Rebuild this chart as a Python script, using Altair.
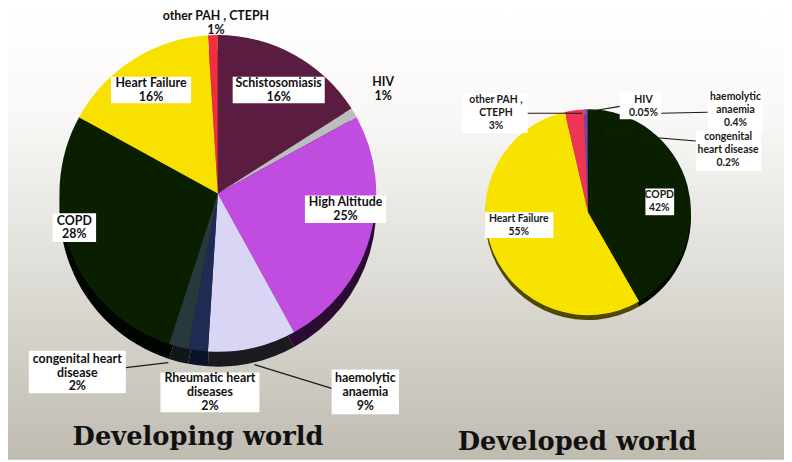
import math
import altair as alt
import pandas as pd

# ---------------- data ----------------
dev_names = ["other PAH , CTEPH", "Schistosomiasis", "HIV", "High Altitude",
             "haemolytic anaemia", "Rheumatic heart diseases",
             "congenital heart disease", "COPD", "Heart Failure"]
dev_values = [1, 16, 1, 25, 9, 2, 2, 28, 16]

ed_names = ["other PAH , CTEPH", "HIV", "haemolytic anaemia",
            "congenital heart disease", "COPD", "Heart Failure"]
ed_values = [3, 0.05, 0.4, 0.2, 42, 55]

dev_labels = ["other PAH , CTEPH\n1%", "Schistosomiasis\n16%", "HIV\n1%",
              "High Altitude\n25%", "haemolytic\nanaemia\n9%",
              "Rheumatic heart\ndiseases\n2%", "congenital heart\ndisease\n2%",
              "COPD\n28%", "Heart Failure\n16%"]
ed_labels = ["other PAH ,\nCTEPH\n3%", "HIV\n0.05%", "haemolytic\nanaemia\n0.4%",
             "congenital\nheart disease\n0.2%", "COPD\n42%", "Heart Failure\n55%"]

titles = ["Developing world", "Developed world"]

# ---------------- styles ----------------
dev_colors = ["#ef2f3e", "#5b1c42", "#bdbdbd", "#c04ddf", "#d9d5f4",
              "#1e2b55", "#27393b", "#0a1e00", "#f8e100"]
dev_side = ["#5a1016", "#220a18", "#555555", "#2a0c33", "#1b1a21",
            "#0c1227", "#0f1819", "#000500", "#4a4200"]
ed_colors = ["#ee3556", "#6a4bb8", "#8a3fa0", "#34408a", "#0a1e00", "#f7e200"]
ed_side = ["#5a1422", "#2a1d48", "#2e1436", "#141a38", "#000500", "#4e4700"]

OFF = 8  # page margin: reference pixel -> chart pixel
W, H = 784, 454


def P(v):
    return v - OFF


def pie(names, values, fills, cx, cy, r, lead):
    df = pd.DataFrame({"name": names, "value": values,
                       "order": list(range(len(names)))})
    total = float(sum(values))
    start = -2 * math.pi * sum(values[:lead]) / total
    return alt.Chart(df).mark_arc(radius=r).encode(
        theta=alt.Theta("value:Q", stack=True,
                        scale=alt.Scale(domain=[0, total],
                                        range=[start, start + 2 * math.pi])),
        color=alt.Color("name:N", scale=alt.Scale(domain=names, range=fills),
                        legend=None),
        order=alt.Order("order:Q"),
        x=alt.value(P(cx)),
        y=alt.value(P(cy)),
    )


# background gradient
bg = alt.Chart(pd.DataFrame({"a": [0]})).mark_rect(
    fill=alt.Gradient(
        gradient="linear",
        stops=[alt.GradientStop(color="#ffffff", offset=0),
               alt.GradientStop(color="#f8f7f5", offset=0.25),
               alt.GradientStop(color="#dedcd6", offset=0.6),
               alt.GradientStop(color="#bfbbb1", offset=1)],
        x1=0, x2=0, y1=0, y2=1)
).encode(x=alt.value(0), x2=alt.value(W), y=alt.value(0), y2=alt.value(H))

# pies (side band first, then top surface)
L_CX, L_CY, L_R, L_D = 220, 193, 160, 15
R_CX, R_CY, R_R, R_D = 594, 212, 104, 5

dev_shadow = pie(dev_names, dev_values, dev_side, L_CX, L_CY + L_D, L_R, 1)
dev_top = pie(dev_names, dev_values, dev_colors, L_CX, L_CY, L_R, 1)
ed_shadow = pie(ed_names, ed_values, ed_side, R_CX, R_CY + R_D, R_R, 4)
ed_top = pie(ed_names, ed_values, ed_colors, R_CX, R_CY, R_R, 4)

# leader lines (reference pixel coords)
lines = [
    (127, 369, 170, 364),
    (257, 366, 335, 390),
    (532, 112, 588, 112),
    (632, 104, 597, 110),
    (667, 112, 715, 111),
    (607, 132, 703, 140),
]
lines_df = pd.DataFrame([{"x": P(a), "y": P(b), "x2": P(c), "y2": P(d)}
                         for a, b, c, d in lines])
leader = alt.Chart(lines_df).mark_rule(color="#1a1a1a", strokeWidth=1.2).encode(
    x=alt.X("x:Q", scale=None), y=alt.Y("y:Q", scale=None),
    x2="x2:Q", y2="y2:Q")
dot = alt.Chart(pd.DataFrame({"x": [P(607)], "y": [P(132)]})).mark_point(
    filled=True, color="#111111", size=18, opacity=1).encode(
    x=alt.X("x:Q", scale=None), y=alt.Y("y:Q", scale=None))

# label boxes and text centres (reference pixel coords)
dev_layout = {
    "other PAH , CTEPH": (None, (218, 21)),
    "Schistosomiasis": ((235, 75, 328, 102), (281.5, 88.5)),
    "HIV": (None, (387, 87.5)),
    "High Altitude": ((308, 195, 390, 223), (349, 209)),
    "haemolytic anaemia": ((335, 371, 403, 416), (369, 393.5)),
    "Rheumatic heart diseases": ((162, 374, 262, 414), (212, 394)),
    "congenital heart disease": ((29, 352, 127, 395), (78, 374)),
    "COPD": ((53, 213, 97, 242), (75, 227.5)),
    "Heart Failure": ((112, 75, 193, 102), (152.5, 88.5)),
}
ed_layout = {
    "other PAH , CTEPH": ((467, 92, 533, 132), (501, 112)),
    "HIV": ((626, 91, 668, 118), (650, 105)),
    "haemolytic anaemia": ((715, 88, 771, 130), (743, 108.5)),
    "congenital heart disease": ((703, 130, 769, 170), (735.5, 149.5)),
    "COPD": ((652, 188, 681, 215), (666, 201.5)),
    "Heart Failure": ((490, 212, 559, 238), (524, 225.5)),
}

DEV_LH, ED_LH = 14, 13

boxes, dev_txt, ed_txt = [], [], []
for n, lab in zip(dev_names, dev_labels):
    box, (tx, ty) = dev_layout[n]
    if box:
        boxes.append({"x": P(box[0]), "y": P(box[1]), "x2": P(box[2]), "y2": P(box[3])})
    k = lab.count("\n")
    dev_txt.append({"x": P(tx), "y": P(ty) - k * DEV_LH / 2, "t": lab})
for n, lab in zip(ed_names, ed_labels):
    box, (tx, ty) = ed_layout[n]
    if box:
        boxes.append({"x": P(box[0]), "y": P(box[1]), "x2": P(box[2]), "y2": P(box[3])})
    k = lab.count("\n")
    ed_txt.append({"x": P(tx), "y": P(ty) - k * ED_LH / 2, "t": lab})

box_layer = alt.Chart(pd.DataFrame(boxes)).mark_rect(color="white").encode(
    x=alt.X("x:Q", scale=None), y=alt.Y("y:Q", scale=None),
    x2="x2:Q", y2="y2:Q")

dev_text = alt.Chart(pd.DataFrame(dev_txt)).mark_text(
    font="Lato", fontSize=12.5, fontWeight="bold", color="#111111",
    lineBreak="\n", lineHeight=DEV_LH, baseline="middle", align="center"
).encode(x=alt.X("x:Q", scale=None), y=alt.Y("y:Q", scale=None), text="t:N")

ed_text = alt.Chart(pd.DataFrame(ed_txt)).mark_text(
    font="Lato", fontSize=10.5, fontWeight="bold", color="#1a1a1a",
    lineBreak="\n", lineHeight=ED_LH, baseline="middle", align="center"
).encode(x=alt.X("x:Q", scale=None), y=alt.Y("y:Q", scale=None), text="t:N")

title_df = pd.DataFrame({"t": titles, "x": [P(200), P(583)], "y": [P(447), P(452)]})
title_layer = alt.Chart(title_df).mark_text(
    font="DejaVu Serif", fontSize=26, fontWeight="bold", color="#111111",
    baseline="alphabetic", align="center"
).encode(x=alt.X("x:Q", scale=None), y=alt.Y("y:Q", scale=None), text="t:N")

chart = alt.layer(
    bg, dev_shadow, dev_top, ed_shadow, ed_top, leader, dot,
    box_layer, dev_text, ed_text, title_layer
).resolve_scale(
    color="independent", theta="independent"
).properties(
    width=W, height=H, padding=0, autosize=alt.AutoSizeParams(type="none")
).configure_view(stroke=None)

chart.save("out.html", embed_options={"renderer": "svg", "actions": False})
